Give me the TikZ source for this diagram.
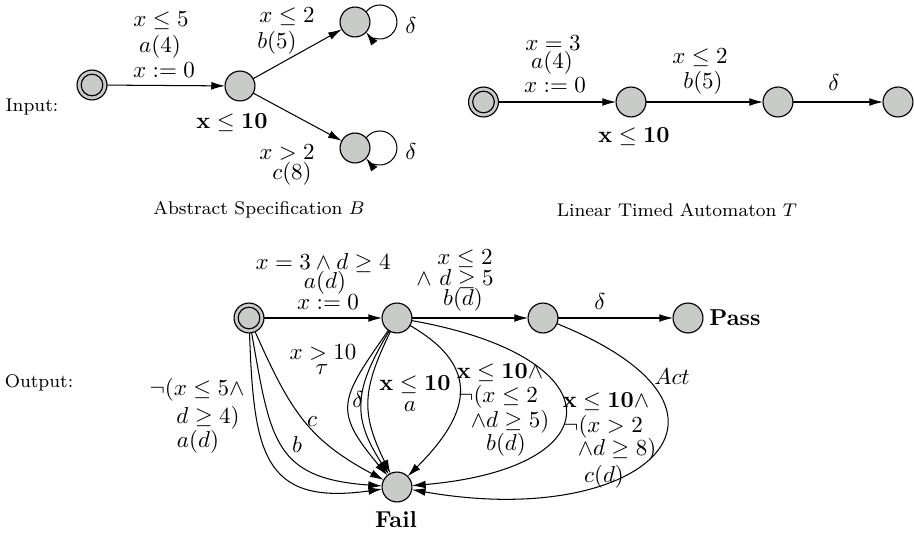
\documentclass[tikz,border=0pt]{standalone}
\usetikzlibrary{arrows.meta}
\definecolor{stategray}{RGB}{201,203,201}
\begin{document}
\begin{tikzpicture}[x=0.4348pt,y=0.4348pt,
  st/.style={circle,draw,fill=stategray,minimum size=13pt,inner sep=0pt,outer sep=0pt,line width=0.5pt},
  ini/.style={st,path picture={\draw[line width=0.5pt] (path picture bounding box.center) circle[radius=4.7pt];}},
  arr/.style={-{Latex[length=6pt,width=3.4pt]},line width=0.45pt},
  lab/.style={inner sep=0pt,outer sep=0pt},
  captxt/.style={lab,font=\footnotesize},
]
\useasboundingbox (0,0) rectangle (914,-533);
% ---------- Abstract specification B ----------
\node[ini] (a0) at (92,-85) {};
\node[st] (a1) at (240,-86) {};
\node[st] (a2) at (355,-22) {};
\node[st] (a3) at (355,-148) {};
\draw[arr] (a0) -- (a1);
\draw[arr] (a1) -- (a2);
\draw[arr] (a1) -- (a3);
\draw[arr] (a2.42) arc[start angle=144,end angle=-144,radius=7.4pt];
\draw[arr] (a3.42) arc[start angle=144,end angle=-144,radius=7.4pt];
\node[lab] (ta1) at (161,-21) {$x\leq 5$};
\node[lab] (ta2) at (160,-47) {$a(4)$};
\node[lab] (ta3) at (164,-70) {$x:=0$};
\node[lab] (ta4) at (287,-17) {$x\leq 2$};
\node[lab] (ta5) at (277,-43) {$b(5)$};
\node[lab] (ta6) at (232,-123) {$\mathbf{x\leq 10}$};
\node[lab] (ta7) at (287,-153) {$x>2$};
\node[lab] (ta8) at (292,-174) {$c(8)$};
\node[lab] (ta9) at (411,-26) {$\delta$};
\node[lab] (ta10) at (411,-152) {$\delta$};
\node[captxt] (ta11) at (259,-210) {Abstract Specification $B$};
\node[captxt] (ta12) at (32,-107) {Input:};
% ---------- Linear timed automaton T ----------
\node[ini] (b0) at (483.5,-102) {};
\node[st] (b1) at (631,-102) {};
\node[st] (b2) at (778,-102) {};
\node[st] (b3) at (898,-102) {};
\draw[arr] (b0) -- (b1);
\draw[arr] (b1) -- (b2);
\draw[arr] (b2) -- (b3);
\node[lab] (tb1) at (553,-43) {$x=3$};
\node[lab] (tb2) at (552,-63) {$a(4)$};
\node[lab] (tb3) at (555,-85) {$x:=0$};
\node[lab] (tb4) at (700,-58) {$x\leq 2$};
\node[lab] (tb5) at (703,-83) {$b(5)$};
\node[lab] (tb6) at (834,-83) {$\delta$};
\node[lab] (tb7) at (634,-137) {$\mathbf{x\leq 10}$};
\node[captxt] (tb8) at (677,-210) {Linear Timed Automaton $T$};
% ---------- Output ----------
\node[ini] (c0) at (249,-318) {};
\node[st] (c1) at (397,-318) {};
\node[st] (c2) at (543,-318) {};
\node[st] (c3) at (688,-318) {};
\node[st] (c4) at (397,-487) {};
\node[lab] (pass) at (735,-318) {\textbf{Pass}};
\node[lab] (fail) at (396,-520) {\textbf{Fail}};
\node[captxt] (out) at (39,-383) {Output:};
\draw[arr] (c0) -- (c1);
\draw[arr] (c1) -- (c2);
\draw[arr] (c2) -- (c3);
% from initial to Fail
\draw[arr] (c0) to[out=-88,in=188,looseness=1.5] (c4);
\draw[arr] (c0) to[out=-80,in=176,looseness=1.38] (c4);
\draw[arr] (c0) to[out=-66,in=152,looseness=1.12] (c4);
% from q1 to Fail (left)
\draw[arr] (c1) to[out=235,in=130,looseness=1.5] (c4);
\draw[arr] (c1) to[out=239,in=123,looseness=1.22] (c4);
\draw[arr] (c1) to[out=244,in=116,looseness=1.2] (c4);
% from q1 to Fail (right)
\draw[arr] (c1) to[out=-30,in=45,looseness=1.45] (c4);
\draw[arr] (c1) to[out=-10,in=5,looseness=3.2] (c4);
% from q2 to Fail
\draw[arr] (c2) to[out=-22,in=-10,looseness=2.72] (c4);
% labels
\node[lab] (l1) at (323,-263) {$x=3\wedge d\geq 4$};
\node[lab] (l2) at (325,-283) {$a(d)$};
\node[lab] (l3) at (328,-302) {$x:=0$};
\node[lab] (l4) at (465,-259) {$x\leq 2$};
\node[lab] (l5) at (455,-279) {$\wedge\ d\geq 5$};
\node[lab] (l6) at (463,-300) {$b(d)$};
\node[lab] (l7) at (600,-302) {$\delta$};
\node[lab] (l8) at (323,-353) {$x>10$};
\node[lab] (l9) at (322,-370) {$\tau$};
\node[lab] (l10) at (358,-400) {$\delta$};
\node[lab] (l11) at (415,-385) {$\mathbf{x\leq 10}$};
\node[lab] (l12) at (410,-407) {$a$};
\node[lab] (l13) at (500,-373) {$\mathbf{x\leq 10}\wedge$};
\node[lab] (l14) at (498,-397) {$\neg(x\leq 2$};
\node[lab] (l15) at (510,-422) {$\wedge d\geq 5)$};
\node[lab] (l16) at (506,-445) {$b(d)$};
\node[lab] (l17) at (606,-402) {$\mathbf{x\leq 10}\wedge$};
\node[lab] (l18) at (603,-427) {$\neg(x>2$};
\node[lab] (l19) at (617,-450) {$\wedge d\geq 8)$};
\node[lab] (l20) at (604,-477) {$c(d)$};
\node[lab] (l21) at (672,-377) {$Act$};
\node[lab] (l22) at (197,-390) {$\neg(x\leq 5\wedge$};
\node[lab] (l23) at (208,-418) {$d\geq 4)$};
\node[lab] (l24) at (198,-442) {$a(d)$};
\node[lab] (l25) at (312,-422) {$c$};
\node[lab] (l26) at (297,-445) {$b$};
\end{tikzpicture}
\end{document}
